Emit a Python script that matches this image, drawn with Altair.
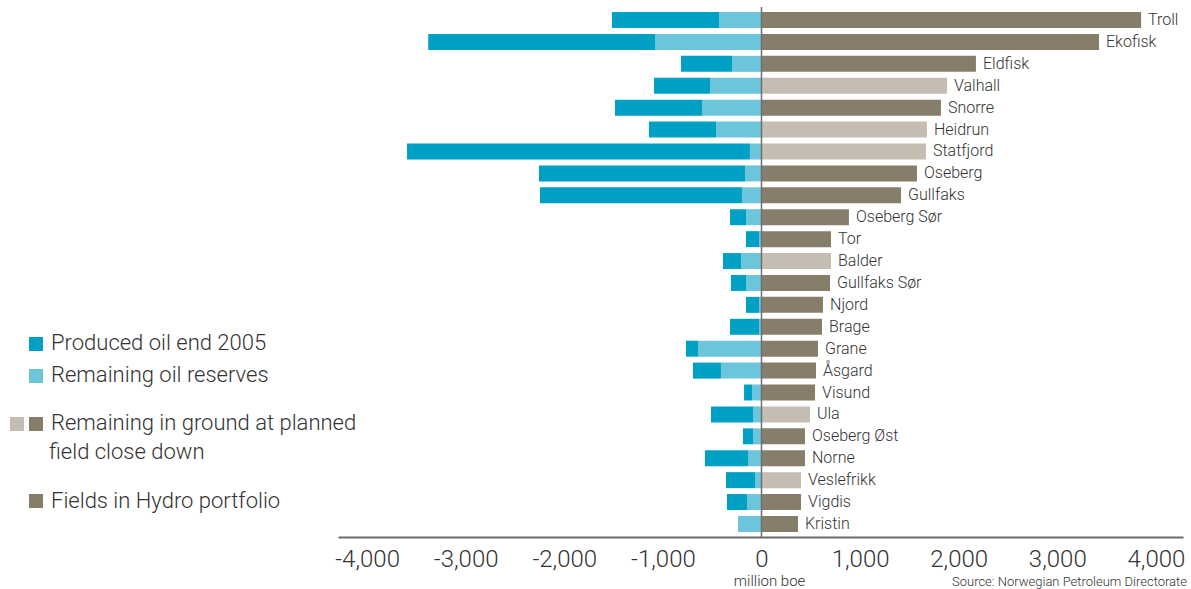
import altair as alt
import pandas as pd

# Oil fields on the Norwegian shelf, million barrels of oil equivalent
fields = ["Troll", "Ekofisk", "Eldfisk", "Valhall", "Snorre", "Heidrun", "Statfjord",
          "Oseberg", "Gullfaks", "Oseberg Sør", "Tor", "Balder", "Gullfaks Sør", "Njord",
          "Brage", "Grane", "Åsgard", "Visund", "Ula", "Oseberg Øst", "Norne",
          "Veslefrikk", "Vigdis", "Kristin"]
produced = [1085, 2300, 517, 568, 883, 680, 3478, 2090, 2048, 162, 132, 182, 152, 132,
            294, 122, 284, 81, 426, 102, 436, 294, 203, 0]
remaining = [431, 1080, 299, 522, 603, 461, 117, 167, 198, 157, 25, 208, 157, 25,
             25, 644, 411, 96, 86, 86, 137, 66, 147, 238]
in_ground = [3850, 3423, 2175, 1881, 1820, 1678, 1668, 1577, 1415, 887, 705, 705, 695,
             624, 614, 573, 553, 543, 492, 441, 441, 401, 401, 370]
hydro = [True, True, True, False, True, False, False, True, True, True, True, False,
         True, True, True, True, True, True, False, True, True, False, True, True]
tick_values = [-4000, -3000, -2000, -1000, 0, 1000, 2000, 3000, 4000]

C_PROD = "#00a0c4"
C_REM = "#6cc5db"
C_DARK = "#877d6b"
C_LIGHT = "#c6bdb2"
TXT = "#333333"
FONT = "Roboto"

df = pd.DataFrame({"field": fields, "produced": produced, "remaining": remaining,
                   "ground": in_ground, "hydro": hydro})

x_scale = alt.Scale(domain=[-4295, 4275], nice=False, zero=False)
y_enc = alt.Y("field:N", sort=fields, axis=None,
              scale=alt.Scale(paddingInner=0.27, paddingOuter=0.23))

base = alt.Chart(df).transform_calculate(
    rem_neg="-datum.remaining",
    tot_neg="-(datum.remaining + datum.produced)",
)

x_axis = alt.Axis(values=tick_values, labelExpr="replace(format(datum.value, ','), '\u2212', '-')",
                  ticks=False, tickSize=0, grid=False, labelPadding=10,
                  labelFont=FONT, labelFontSize=24, labelFontWeight=300, labelColor=TXT,
                  domainColor="#6b6b6b", domainWidth=2,
                  title="million boe", titleFont=FONT, titleFontSize=15, titleFontWeight=300,
                  titleColor=TXT, titleX=431, titleY=48, titleBaseline="alphabetic",
                  titleAlign="center", titleAnchor="start")

prod_bars = base.mark_bar(color=C_PROD).encode(
    x=alt.X("tot_neg:Q", scale=x_scale, axis=x_axis),
    x2="rem_neg:Q",
    y=y_enc,
)
rem_bars = base.mark_bar(color=C_REM).encode(
    x=alt.X("rem_neg:Q", scale=x_scale),
    x2=alt.X2(datum=0),
    y=y_enc,
)
ground_bars = base.mark_bar().encode(
    x=alt.X("ground:Q", scale=x_scale),
    x2=alt.X2(datum=0),
    y=y_enc,
    color=alt.Color("hydro:N", scale=alt.Scale(domain=[True, False], range=[C_DARK, C_LIGHT]),
                    legend=None),
)
names = base.mark_text(align="left", baseline="middle", dx=7, font=FONT, fontSize=16,
                       fontWeight=300, color=TXT).encode(
    x=alt.X("ground:Q", scale=x_scale),
    y=y_enc,
    text="field:N",
)

one = alt.Data(values=[{}])
zero_line = alt.Chart(one).mark_rule(color="#707070", strokeWidth=1.5).encode(
    x=alt.X(datum=0, scale=x_scale))


def swatch(x0, y0, colour):
    return alt.Chart(one).mark_rect(color=colour).encode(
        x=alt.value(x0), x2=alt.value(x0 + 14), y=alt.value(y0), y2=alt.value(y0 + 14))


def label(x0, y0, text, size=22, align="left", weight=300):
    return alt.Chart(one).mark_text(align=align, baseline="alphabetic", font=FONT,
                                    fontSize=size, fontWeight=weight, color=TXT).encode(
        x=alt.value(x0), y=alt.value(y0), text=alt.value(text))


legend = [
    swatch(-309, 330, C_PROD),
    swatch(-309, 362, C_REM),
    swatch(-328, 410, C_LIGHT),
    swatch(-309, 410, C_DARK),
    swatch(-309, 487, C_DARK),
    label(-287, 343, "Produced oil end 2005"),
    label(-287, 375, "Remaining oil reserves"),
    label(-287, 423, "Remaining in ground at planned"),
    label(-289, 452, "field close down"),
    label(-287, 501, "Fields in Hydro portfolio"),
    label(849, 579, "Source: Norwegian Petroleum Directorate", size=13, align="right"),
]

chart = alt.layer(prod_bars, rem_bars, ground_bars, names, zero_line, *legend).properties(
    width=845, height=530,
    padding={"left": 338, "top": 7, "right": 8, "bottom": 52},
    autosize=alt.AutoSizeParams(type="none"),
    background="white",
).configure_view(stroke=None)

chart.save("out.html", embed_options={"renderer": "svg", "actions": False})
